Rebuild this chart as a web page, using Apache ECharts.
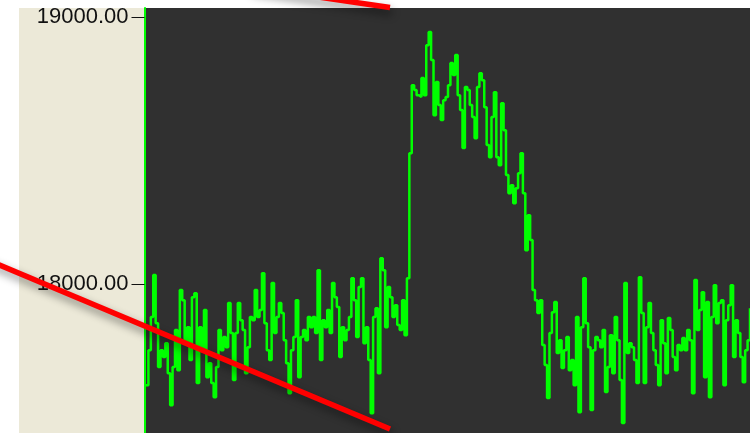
<!DOCTYPE html>
<html>
<head>
<meta charset="utf-8">
<script src="https://cdn.jsdelivr.net/npm/echarts@6/dist/echarts.min.js"></script>
<style>
html,body{margin:0;padding:0;background:#ffffff;}
#chart{width:750px;height:433px;}
</style>
</head>
<body>
<div id="chart"></div>
<script>
// Signal values (baseline, step up, plateau, fall, baseline)
const baselineBefore = [
17622,17753,17877,18034,17854,17690,17753,17727,17779,17667,
17547,17690,17828,17678,17978,17940,17779,17839,17716,17951,
17966,17630,17839,17753,17903,17652,17704,17630,17577,17690,
17828,17753,17802,17764,17929,17817,17641,17817,17929,17865,
17828,17667,17764,17877,17865,17978,17877,17903,18041,17854
];
const baselineLate = [
17753,17716,18004,17817,17877,17929,17892,17790,17704,17592,
17753,17802,17940,17652,17802,17828,17790,17877,17839,17877,
17817,18052,17716,17865,17839,17903,17817,18004,17951,17914,
17727,17839,17790,17828,17877,18022,17940,17802,17989,18022,
17779,17839,17716,17517,17877,17910,17667,18097,18052,17839,
17989,17951,17877,17921,17847,17828,17940,17809,18022
];
const plateau = [
18490,18744,18726,18707,18700,18771,18707,18894,18943,18838,
18632,18756,18670,18614,18688,18700,18744,18827,18782,18857,
18707,18651,18509,18737,18726,18670,18625,18546,18737,18789,
18763,18662,18520,18475,18625,18718,18475,18445,18677,18576,
18408,18340,18370,18303,18359,18415,18490,18340,18127,18258,
18165,17978,17940,17892,17940,17772,17697
];
const baselineAfter = [
17574,17817,17895,17933,17742,17790,17686,17753,17802,17678,
17716,17622,17877,17521,17839,18022,17854,17764,17529,17753,
17802,17790,17764,17828,17596,17690,17809,17667,17877,17790,
17641,17480,18004,17742,17779,17764,17716,17630,18026,17892,
17630,17839,17929,17817,17753,17697,17622,17865,17779,17667,
17873,17828,17727,17678,17772,17753,17798,17753,17828,17790,
17592,18015,17828,17903,17970,17652,17933,17577,17877,17996,
17854,17929,17940,17622,17865,17921,17996,17727,17865,17817,
17727,17633,17753,17790,17910
];
const yTickValues = [18000, 19000];

const values = baselineBefore.concat(baselineLate, plateau, baselineAfter);
const categories = values.map((v, i) => String(i));

const chart = echarts.init(document.getElementById('chart'), null, {renderer: 'canvas'});
chart.setOption({
  animation: false,
  backgroundColor: '#ffffff',
  grid: {
    left: 146, top: 8, right: 0, bottom: 0,
    show: true, backgroundColor: '#303030', borderWidth: 0
  },
  xAxis: {
    type: 'category',
    data: categories,
    boundaryGap: false,
    axisLine: {show: false},
    axisTick: {show: false},
    axisLabel: {show: false},
    splitLine: {show: false}
  },
  yAxis: {
    type: 'value',
    min: 17443,
    max: 19033,
    offset: 1.5,
    splitLine: {show: false},
    axisLine: {show: true, lineStyle: {color: '#00ff00', width: 2}},
    axisTick: {show: true, customValues: yTickValues, length: 13, lineStyle: {color: '#111111', width: 1}},
    axisLabel: {
      customValues: yTickValues,
      formatter: v => Number(v).toFixed(2),
      margin: 16,
      fontFamily: 'Liberation Sans, Arial, sans-serif',
      fontSize: 22,
      color: '#111111'
    }
  },
  series: [{
    type: 'line',
    data: values,
    step: 'end',
    symbol: 'none',
    lineStyle: {color: '#00ff00', width: 2.5},
    z: 3
  }],
  graphic: [
    {
      type: 'rect', z: -1, silent: true,
      shape: {x: 19, y: 8, width: 127, height: 425},
      style: {fill: '#ece9d8'}
    },
    {
      type: 'line', z: 100, silent: true,
      shape: {x1: -10, y1: 261, x2: 390, y2: 429},
      style: {stroke: '#ff0000', lineWidth: 5.5, shadowBlur: 8, shadowColor: 'rgba(0,0,0,0.45)', shadowOffsetX: 2, shadowOffsetY: 5}
    },
    {
      type: 'line', z: 100, silent: true,
      shape: {x1: 250, y1: -13, x2: 390, y2: 7.5},
      style: {stroke: '#ff0000', lineWidth: 5.5, shadowBlur: 8, shadowColor: 'rgba(0,0,0,0.45)', shadowOffsetX: 2, shadowOffsetY: 5}
    }
  ]
});
</script>
</body>
</html>
